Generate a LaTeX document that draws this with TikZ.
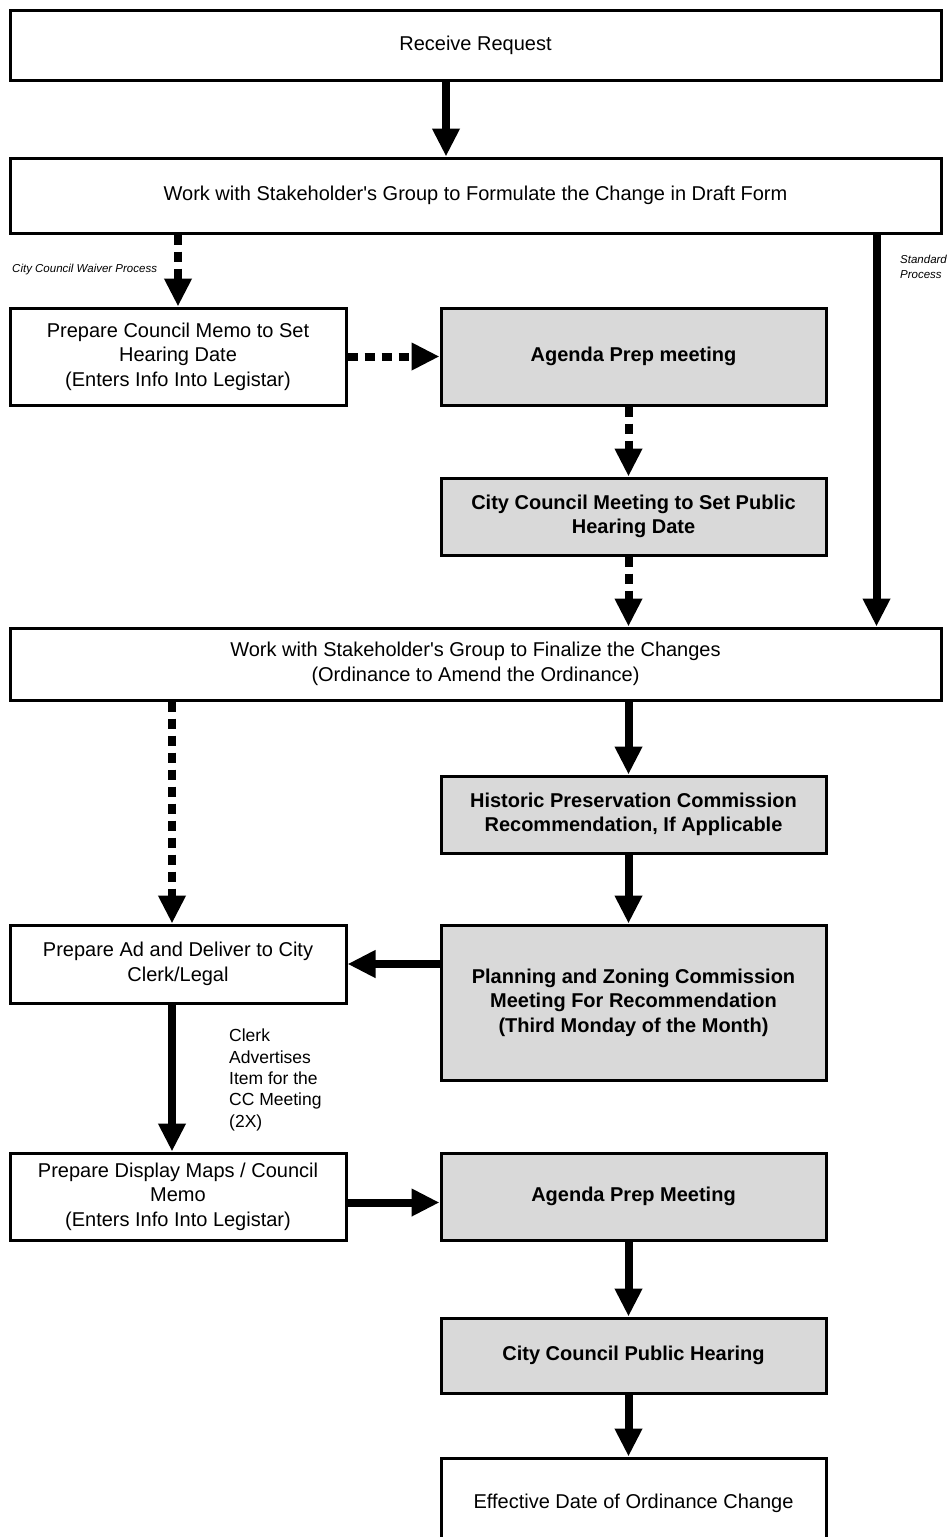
\documentclass[tikz,border=0pt]{standalone}
\usepackage{fontspec}
\setmainfont{Liberation Sans}
\usetikzlibrary{arrows.meta}
\definecolor{boxgray}{RGB}{217,217,217}
\newcommand{\apos}{\textquotesingle}
\begin{document}
\begin{tikzpicture}[x=1pt,y=-1pt,
  box/.style={draw, line width=3pt, rectangle, inner sep=0pt, align=center,
    font=\fontsize{20}{24.5}\selectfont},
  plain/.style={box, fill=white},
  shaded/.style={box, fill=boxgray, font=\fontsize{20}{24.5}\selectfont\bfseries},
  flow/.style={line width=8pt, -{Triangle[width=26pt,length=28pt]}},
  dflow/.style={flow, dash pattern=on 10pt off 7pt},
  note/.style={font=\fontsize{11.5}{15}\selectfont\itshape, align=left, inner sep=0pt},
]
\useasboundingbox (0,0) rectangle (951,1537);
\clip (0,0) rectangle (951,1537);

% process steps
\node[plain, minimum width=931, minimum height=70] (recv) at (475.5,45) {Receive Request};
\node[plain, minimum width=931, minimum height=75] (work1) at (475.5,195.5)
  {Work with Stakeholder\apos s Group to Formulate the Change in Draft Form};
\node[plain, minimum width=336, minimum height=97] (memo) at (178,356.5)
  {Prepare Council Memo to Set\\Hearing Date\\(Enters Info Into Legistar)};
\node[shaded, minimum width=385, minimum height=97] (agenda1) at (633.5,356.5)
  {Agenda Prep meeting};
\node[shaded, minimum width=385, minimum height=77] (ccset) at (633.5,516.5)
  {City Council Meeting to Set Public\\Hearing Date};
\node[plain, minimum width=931, minimum height=72] (final) at (475.5,664)
  {Work with Stakeholder\apos s Group to Finalize the Changes\\(Ordinance to Amend the Ordinance)};
\node[shaded, minimum width=385, minimum height=77] (hist) at (633.5,814.5)
  {Historic Preservation Commission\\Recommendation, If Applicable};
\node[shaded, minimum width=385, minimum height=155] (plan) at (633.5,1002.5)
  {Planning and Zoning Commission\\Meeting For Recommendation\\(Third Monday of the Month)};
\node[plain, minimum width=336, minimum height=78] (prepad) at (178,964)
  {Prepare Ad and Deliver to City\\Clerk/Legal};
\node[plain, minimum width=336, minimum height=87] (display) at (178,1196.5)
  {Prepare Display Maps / Council\\Memo\\(Enters Info Into Legistar)};
\node[shaded, minimum width=385, minimum height=87] (agenda2) at (633.5,1196.5)
  {Agenda Prep Meeting};
\node[shaded, minimum width=385, minimum height=75] (ccph) at (633.5,1355.5)
  {City Council Public Hearing};
\node[plain, minimum width=385, minimum height=90] (eff) at (633.5,1503)
  {Effective Date of Ordinance Change};

% side labels
\node[note, anchor=west] (waiver) at (12,270) {City Council Waiver Process};
\node[note, anchor=north west] (stdlbl) at (900,255) {Standard\\Process};
\node[anchor=north west, align=left, inner sep=0pt,
  font=\fontsize{17.5}{21.3}\selectfont] (clerk) at (229,1029)
  {Clerk\\Advertises\\Item for the\\CC Meeting\\(2X)};

% connectors
\draw[flow] ([xshift=-29.5pt]recv.south) -- ([xshift=-29.5pt]work1.north);
\draw[dflow] (work1.south -| memo.north) -- (memo.north);
\draw[dflow] (memo.east) -- (agenda1.west);
\draw[dflow] ([xshift=-5pt]agenda1.south) -- ([xshift=-5pt]ccset.north);
\draw[dflow] ([xshift=-5pt]ccset.south) -- ([xshift=-5pt]ccset.south |- final.north);
\draw[flow] ([xshift=-66pt]work1.south east) -- ([xshift=-66pt]final.north east);
\draw[dflow] ([xshift=-6pt]prepad.north |- final.south) -- ([xshift=-6pt]prepad.north);
\draw[flow] ([xshift=-5pt]hist.north |- final.south) -- ([xshift=-5pt]hist.north);
\draw[flow] ([xshift=-5pt]hist.south) -- ([xshift=-5pt]plan.north);
\draw[flow] (plan.west |- prepad.east) -- (prepad.east);
\draw[flow] ([xshift=-6pt]prepad.south) -- ([xshift=-6pt]display.north);
\draw[flow] ([yshift=-6pt]display.east) -- ([yshift=-6pt]agenda2.west);
\draw[flow] ([xshift=-5pt]agenda2.south) -- ([xshift=-5pt]ccph.north);
\draw[flow] ([xshift=-5pt]ccph.south) -- ([xshift=-5pt]eff.north);
\end{tikzpicture}
\end{document}
